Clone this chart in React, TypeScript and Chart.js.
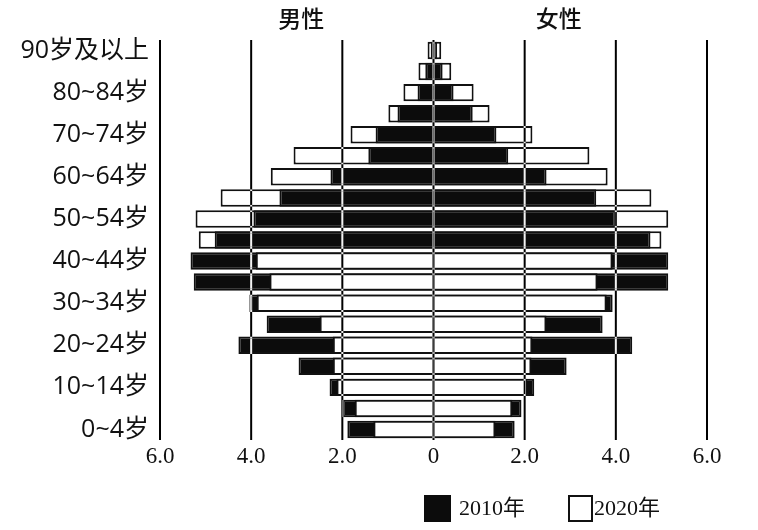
import { useEffect, useRef } from "react";
import { Chart, registerables } from "chart.js";

Chart.register(...registerables);

// Age groups, bottom (youngest) to top (oldest)
const ageGroups = [
  "0~4岁", "5~9岁", "10~14岁", "15~19岁", "20~24岁", "25~29岁", "30~34岁",
  "35~39岁", "40~44岁", "45~49岁", "50~54岁", "55~59岁", "60~64岁", "65~69岁",
  "70~74岁", "75~79岁", "80~84岁", "85~89岁", "90岁及以上",
];

// Share of population (%)
const male2010 = [1.89, 2.0, 2.28, 2.96, 4.28, 3.66, 4.04, 5.26, 5.33, 4.8, 3.95, 3.38, 2.26, 1.43, 1.27, 0.79, 0.35, 0.18, 0.06];
const male2020 = [1.32, 1.73, 2.13, 2.21, 2.21, 2.5, 3.88, 3.6, 3.9, 5.15, 5.22, 4.67, 3.57, 3.07, 1.82, 0.99, 0.66, 0.33, 0.13];
const female2010 = [1.78, 1.93, 2.21, 2.92, 4.36, 3.71, 3.93, 5.15, 5.15, 4.76, 3.99, 3.57, 2.48, 1.64, 1.38, 0.86, 0.44, 0.2, 0.08];
const female2020 = [1.36, 1.73, 2.06, 2.15, 2.17, 2.48, 3.8, 3.6, 3.93, 5.0, 5.15, 4.78, 3.82, 3.42, 2.17, 1.23, 0.88, 0.39, 0.17];

const yearLabels = ["2010年", "2020年"];
const sexTitles = ["男性", "女性"];
const xMin = -6;
const xMax = 6;
const xStep = 2;

export default function App() {
  const ref = useRef<HTMLCanvasElement>(null);

  useEffect(() => {
    if (!ref.current) return;
    const ink = "#111111";
    const black = "#0c0c0c";
    const white = "#ffffff";

    const bigger = (a: number[], b: number[]) => a.map((v, i) => Math.max(v, b[i]));
    const smaller = (a: number[], b: number[]) => a.map((v, i) => Math.min(v, b[i]));
    const backColors = (a: number[], b: number[]) => a.map((v, i) => (v > b[i] ? black : white));
    const frontColors = (a: number[], b: number[]) => a.map((v, i) => (v > b[i] ? white : black));
    const neg = (a: number[]) => a.map((v) => -v);

    const common = {
      grouped: false,
      borderColor: ink,
      borderWidth: 2,
      barPercentage: 0.83,
      categoryPercentage: 1,
      borderSkipped: "start" as const,
    };

    const paper = {
      id: "paper",
      beforeDraw(c: any) {
        const ctx = c.ctx;
        ctx.save();
        ctx.fillStyle = "#ffffff";
        ctx.fillRect(0, 0, c.width, c.height);
        ctx.restore();
      },
    };

    const gridOverlay = {
      id: "gridOverlay",
      afterDatasetsDraw(c: any) {
        const { ctx, chartArea: a } = c;
        const x = c.scales.x;
        ctx.save();
        ctx.globalCompositeOperation = "difference";
        ctx.strokeStyle = "#ffffff";
        ctx.lineWidth = 2;
        x.ticks.forEach((t: any) => {
          const px = x.getPixelForValue(t.value);
          ctx.beginPath();
          ctx.moveTo(px, a.top);
          ctx.lineTo(px, a.bottom);
          ctx.stroke();
        });
        ctx.restore();
      },
    };

    const decorations = {
      id: "decorations",
      afterDraw(c: any) {
        const { ctx } = c;
        const x = c.scales.x;
        ctx.save();
        // titles
        ctx.fillStyle = ink;
        ctx.font = '500 23px "Noto Sans CJK SC"';
        ctx.textAlign = "center";
        ctx.textBaseline = "middle";
        ctx.fillText(sexTitles[0], x.getPixelForValue(-2.9), 18);
        ctx.fillText(sexTitles[1], x.getPixelForValue(2.75), 18);
        // legend
        const by = 495;
        const bs = 27;
        ctx.fillStyle = black;
        ctx.fillRect(424, by, bs, bs);
        ctx.fillStyle = white;
        ctx.fillRect(568, by, bs - 2, bs);
        ctx.strokeStyle = ink;
        ctx.lineWidth = 2;
        ctx.strokeRect(569, by + 1, bs - 4, bs - 2);
        ctx.fillStyle = ink;
        ctx.font = '22px "Liberation Serif", "Noto Sans CJK SC"';
        ctx.textAlign = "left";
        ctx.fillText(yearLabels[0], 459, by + bs / 2 + 1);
        ctx.fillText(yearLabels[1], 594, by + bs / 2 + 1);
        ctx.restore();
      },
    };

    const chart = new Chart(ref.current, {
      type: "bar",
      data: {
        labels: ageGroups,
        datasets: [
          { ...common, label: "男 front", data: neg(smaller(male2010, male2020)), backgroundColor: frontColors(male2010, male2020), order: 0 },
          { ...common, label: "女 front", data: smaller(female2010, female2020), backgroundColor: frontColors(female2010, female2020), order: 0 },
          { ...common, label: "男 back", data: neg(bigger(male2010, male2020)), backgroundColor: backColors(male2010, male2020), order: 1 },
          { ...common, label: "女 back", data: bigger(female2010, female2020), backgroundColor: backColors(female2010, female2020), order: 1 },
        ],
      },
      options: {
        indexAxis: "y",
        animation: false,
        responsive: true,
        maintainAspectRatio: false,
        layout: { padding: { top: 40, right: 51, bottom: 40, left: 0 } },
        plugins: {
          legend: { display: false },
          tooltip: { enabled: false },
          title: { display: false },
        },
        scales: {
          x: {
            type: "linear",
            min: xMin,
            max: xMax,
            grid: { display: false, drawTicks: false },
            border: { display: false },
            ticks: {
              stepSize: xStep,
              padding: 3,
              color: ink,
              font: { family: '"Liberation Serif"', size: 23 },
              callback: (v: any) => (Number(v) === 0 ? "0" : Math.abs(Number(v)).toFixed(1)),
            },
            afterFit: (s: any) => {
              s.height = 50;
            },
          },
          y: {
            type: "category",
            reverse: true,
            grid: { display: false, drawTicks: false },
            border: { display: false },
            ticks: {
              autoSkip: false,
              padding: 11,
              color: ink,
              font: { family: '"Open Sans", "Noto Sans CJK SC"', size: 25 },
              callback: (v: any) => (Number(v) % 2 === 0 ? ageGroups[Number(v)] : ""),
            },
            afterFit: (s: any) => {
              s.width = 160;
            },
          },
        },
      },
      plugins: [paper, gridOverlay, decorations],
    });
    return () => chart.destroy();
  }, []);

  return (
    <div style={{ position: "absolute", left: 0, top: 0, width: 758, height: 530 }}>
      <canvas ref={ref} />
    </div>
  );
}
